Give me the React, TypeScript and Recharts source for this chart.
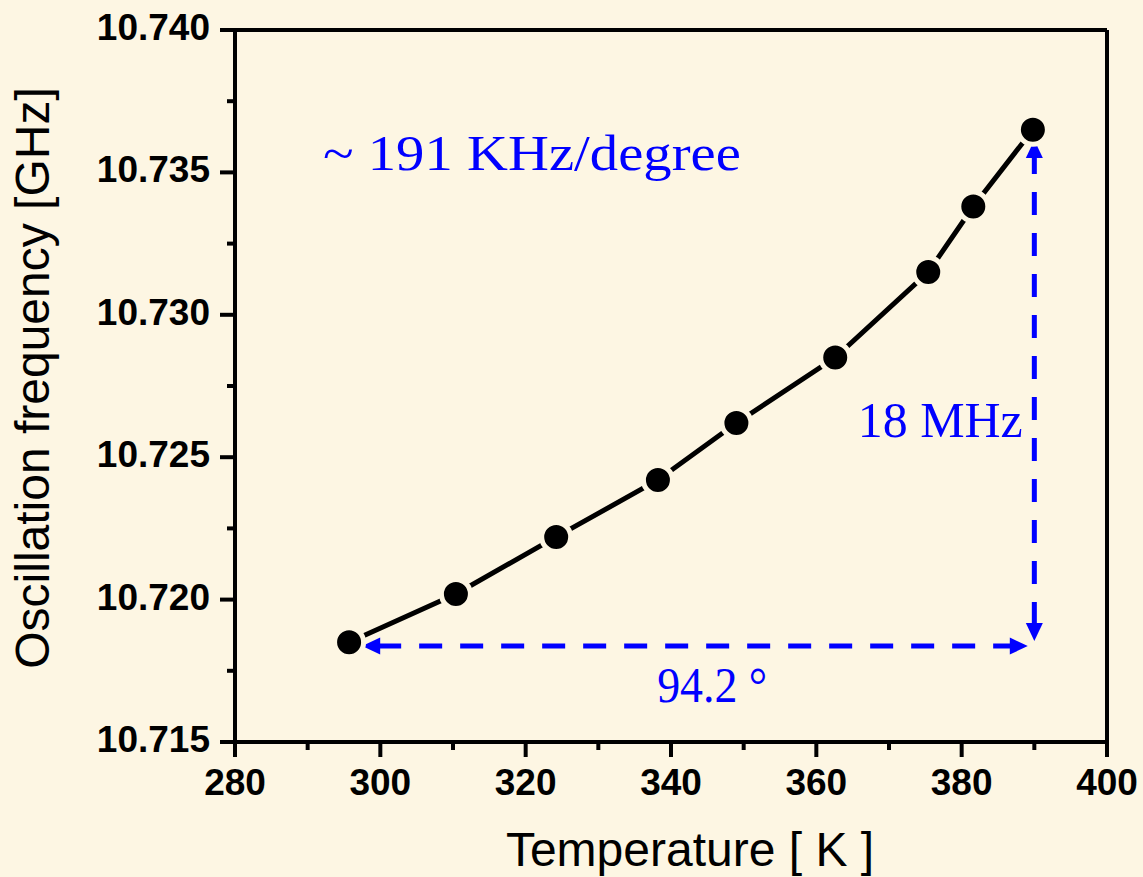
import { LineChart, Line, XAxis, YAxis, ReferenceLine, ReferenceDot } from "recharts";

document.body.style.margin = "0";

const BG = "#FDF6E3";
const BLUE = "#0000FF";

// temperature [K] vs oscillation frequency [GHz]
const temperature = [295.7, 310.4, 324.2, 338.2, 349.0, 362.6, 375.4, 381.6, 389.8];
const frequency = [10.7185, 10.7202, 10.7222, 10.7242, 10.7262, 10.7285, 10.7315, 10.7338, 10.7365];

const xTicks = [280, 290, 300, 310, 320, 330, 340, 350, 360, 370, 380, 390, 400];
const yTicks = [10.715, 10.7175, 10.72, 10.7225, 10.725, 10.7275, 10.73, 10.7325, 10.735, 10.7375, 10.74];

// dimension arrows
const hArrow = [{ x: 297.5, y: 10.71837 }, { x: 389.1, y: 10.71837 }];
const vArrow = [{ x: 390.0, y: 10.71855 }, { x: 390.0, y: 10.73614 }];

const notes = [
  { x: 292.1, y: 10.7351, text: "~ 191 KHz/degree", w: 418 },
  { x: 365.7, y: 10.7257, text: "18 MHz", w: 165 },
  { x: 338.1, y: 10.7164, text: "94.2 °", w: 110 },
];

const data = temperature.map((t, i) => ({ t, f: frequency[i] }));

const TICK = 15;
const GAP = 10;

function XTick(props: any) {
  const { x, y, payload } = props;
  const v = payload.value;
  const major = v % 20 === 0;
  const y0 = y - GAP - TICK;
  return (
    <g>
      <line x1={x} x2={x} y1={y0} y2={y0 + (major ? TICK : 8)} stroke="#000" strokeWidth={4} />
      {major && (
        <text x={x} y={y + 28} textAnchor="middle" fontFamily="Liberation Sans, Arial" fontWeight="bold" fontSize={37} fill="#000">
          {v}
        </text>
      )}
    </g>
  );
}

function YTick(props: any) {
  const { x, y, payload } = props;
  const v = payload.value;
  const major = Math.round(v * 10000) % 50 === 0;
  const x1 = x + GAP + TICK;
  return (
    <g>
      <line x1={x1 - (major ? TICK : 8)} x2={x1} y1={y} y2={y} stroke="#000" strokeWidth={4} />
      {major && (
        <text x={x} y={y + 10} textAnchor="end" fontFamily="Liberation Sans, Arial" fontWeight="bold" fontSize={37} fill="#000">
          {v.toFixed(3)}
        </text>
      )}
    </g>
  );
}

function Marker(props: any) {
  const { cx, cy } = props;
  if (cx == null || cy == null) return null;
  return <circle cx={cx} cy={cy} r={14.5} fill="#000" stroke={BG} strokeWidth={5} />;
}

function arrowHead(x: number, y: number, dx: number, dy: number) {
  // tip at (x,y), pointing along (dx,dy)
  const len = 18;
  const half = 8.5;
  const bx = x - dx * len;
  const by = y - dy * len;
  const px = -dy * half;
  const py = dx * half;
  return `${x},${y} ${bx + px},${by + py} ${bx - px},${by - py}`;
}

function DoubleArrow(props: any) {
  const { x1, y1, x2, y2 } = props;
  const L = Math.hypot(x2 - x1, y2 - y1) || 1;
  const dx = (x2 - x1) / L;
  const dy = (y2 - y1) / L;
  return (
    <g>
      <line
        x1={x1 + dx * 16}
        y1={y1 + dy * 16}
        x2={x2 - dx * 16}
        y2={y2 - dy * 16}
        stroke={BLUE}
        strokeWidth={5}
        strokeDasharray="23 18"
      />
      <polygon points={arrowHead(x2, y2, dx, dy)} fill={BLUE} />
      <polygon points={arrowHead(x1, y1, -dx, -dy)} fill={BLUE} />
    </g>
  );
}

function NoteText(text: string, w: number) {
  return (props: any) => (
    <text
      x={props.cx}
      y={props.cy}
      textLength={w}
      lengthAdjust="spacingAndGlyphs"
      fontFamily="Liberation Serif, Times New Roman, serif"
      fontSize={50}
      fill={BLUE}
    >
      {text}
    </text>
  );
}

export default function App() {
  return (
    <div style={{ width: 1143, height: 877, background: BG, position: "relative" }}>
      <LineChart width={1143} height={877} data={data} margin={{ top: 30, right: 36, bottom: 0, left: 0 }}>
        <XAxis
          dataKey="t"
          type="number"
          domain={[280, 400]}
          ticks={xTicks}
          interval={0}
          tickSize={TICK}
          tickMargin={GAP}
          tickLine={false}
          tick={<XTick />}
          axisLine={{ stroke: "#000", strokeWidth: 4 }}
          height={135}
          allowDataOverflow
        />
        <YAxis
          dataKey="f"
          type="number"
          domain={[10.715, 10.74]}
          ticks={yTicks}
          interval={0}
          tickSize={TICK}
          tickMargin={GAP}
          tickLine={false}
          tick={<YTick />}
          axisLine={{ stroke: "#000", strokeWidth: 4 }}
          width={235}
          allowDataOverflow
        />
        <ReferenceLine y={10.74} stroke="#000" strokeWidth={4} />
        <ReferenceLine x={400} stroke="#000" strokeWidth={4} />
        <ReferenceLine segment={hArrow} shape={<DoubleArrow />} />
        <ReferenceLine segment={vArrow} shape={<DoubleArrow />} />
        <Line
          dataKey="f"
          type="linear"
          stroke="#000"
          strokeWidth={5}
          dot={<Marker />}
          activeDot={false}
          isAnimationActive={false}
        />
        {notes.map((n) => (
          <ReferenceDot key={n.text} x={n.x} y={n.y} r={0} shape={NoteText(n.text, n.w)} />
        ))}
        <text x={690} y={866} textAnchor="middle" fontFamily="Liberation Sans, Arial" fontSize={48} fill="#000">
          Temperature [ K ]
        </text>
        <text
          x={49}
          y={378}
          textAnchor="middle"
          transform="rotate(-90 49 378)"
          fontFamily="Liberation Sans, Arial"
          fontSize={48}
          fill="#000"
        >
          Oscillation frequency [GHz]
        </text>
      </LineChart>
    </div>
  );
}
